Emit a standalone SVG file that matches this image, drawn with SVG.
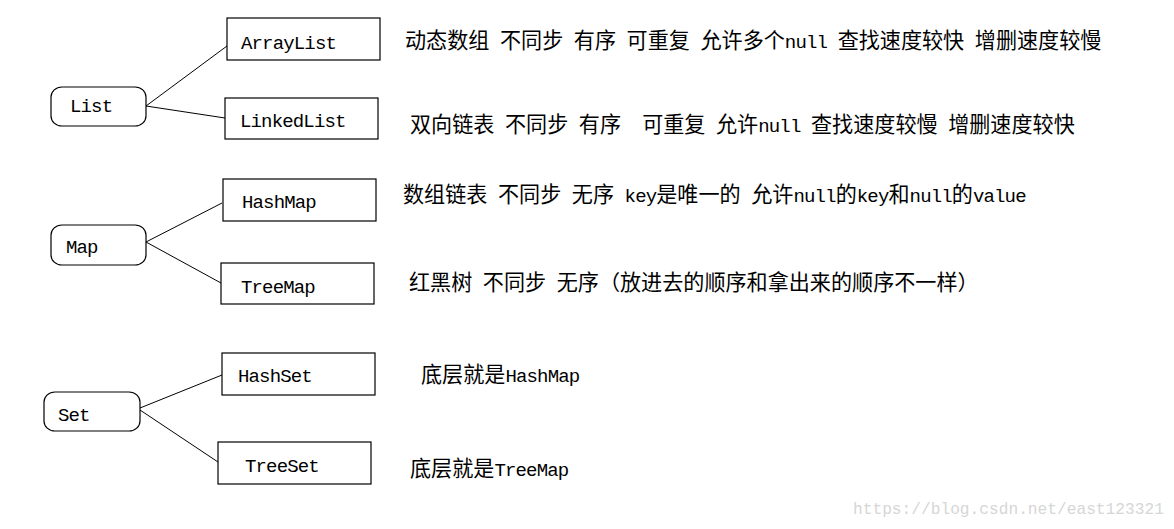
<svg xmlns="http://www.w3.org/2000/svg" width="1174" height="529" viewBox="0 0 1174 529">
<style>
text{font-family:"Liberation Mono","Noto Sans CJK SC",monospace;font-size:19px;letter-spacing:-0.84px;fill:#000;white-space:pre}
.c{font-size:21.1px;letter-spacing:0}
.box{fill:#fff;stroke:#000;stroke-width:1.2}
.edge{stroke:#000;stroke-width:1;fill:none}
.wm{fill:#d6d6d6;font-size:16.2px;letter-spacing:0}
</style>
<rect width="1174" height="529" fill="#fff"/>
<g id="connectors">
<line class="edge" x1="146" y1="106" x2="227" y2="46"/>
<line class="edge" x1="146" y1="106" x2="225" y2="118"/>
<line class="edge" x1="146" y1="242" x2="222" y2="203"/>
<line class="edge" x1="146" y1="242" x2="221" y2="283"/>
<line class="edge" x1="140" y1="408" x2="222" y2="375"/>
<line class="edge" x1="140" y1="410" x2="218" y2="462"/>
</g>
<g id="node-list"><rect class="box" x="51" y="87" width="95" height="39" rx="11" ry="10"/><text x="70" y="112">List</text></g>
<g id="node-arraylist"><rect class="box" x="227" y="18" width="153" height="42"/><text x="241" y="49">ArrayList</text></g>
<g id="node-linkedlist"><rect class="box" x="225" y="98" width="153" height="41"/><text x="240" y="127">LinkedList</text></g>
<g id="node-map"><rect class="box" x="51" y="225" width="95" height="40" rx="11" ry="10"/><text x="66" y="253">Map</text></g>
<g id="node-hashmap"><rect class="box" x="223" y="179" width="153" height="42"/><text x="242" y="208">HashMap</text></g>
<g id="node-treemap"><rect class="box" x="221" y="263" width="153" height="41"/><text x="241" y="293">TreeMap</text></g>
<g id="node-set"><rect class="box" x="44" y="392" width="96" height="39" rx="11" ry="10"/><text x="58" y="421">Set</text></g>
<g id="node-hashset"><rect class="box" x="222" y="353" width="153" height="42"/><text x="238" y="382">HashSet</text></g>
<g id="node-treeset"><rect class="box" x="218" y="442" width="153" height="42"/><text x="245" y="472">TreeSet</text></g>
<g id="descriptions">
<text x="405" y="48" xml:space="preserve"><tspan class="c">动态数组</tspan> <tspan class="c">不同步</tspan> <tspan class="c">有序</tspan> <tspan class="c">可重复</tspan> <tspan class="c">允许多个</tspan>null <tspan class="c">查找速度较快</tspan> <tspan class="c">增删速度较慢</tspan></text>
<text x="410" y="132" xml:space="preserve"><tspan class="c">双向链表</tspan> <tspan class="c">不同步</tspan> <tspan class="c">有序</tspan>  <tspan class="c">可重复</tspan> <tspan class="c">允许</tspan>null <tspan class="c">查找速度较慢</tspan> <tspan class="c">增删速度较快</tspan></text>
<text x="403" y="202" xml:space="preserve"><tspan class="c">数组链表</tspan> <tspan class="c">不同步</tspan> <tspan class="c">无序</tspan> key<tspan class="c">是唯一的</tspan> <tspan class="c">允许</tspan>null<tspan class="c">的</tspan>key<tspan class="c">和</tspan>null<tspan class="c">的</tspan>value</text>
<text x="409" y="290" xml:space="preserve"><tspan class="c">红黑树</tspan> <tspan class="c">不同步</tspan> <tspan class="c">无序（放进去的顺序和拿出来的顺序不一样）</tspan></text>
<text x="421" y="382" xml:space="preserve"><tspan class="c">底层就是</tspan>HashMap</text>
<text x="410" y="476" xml:space="preserve"><tspan class="c">底层就是</tspan>TreeMap</text>
</g>
<text class="wm" x="853" y="514">https://blog.csdn.net/east123321</text>
</svg>
